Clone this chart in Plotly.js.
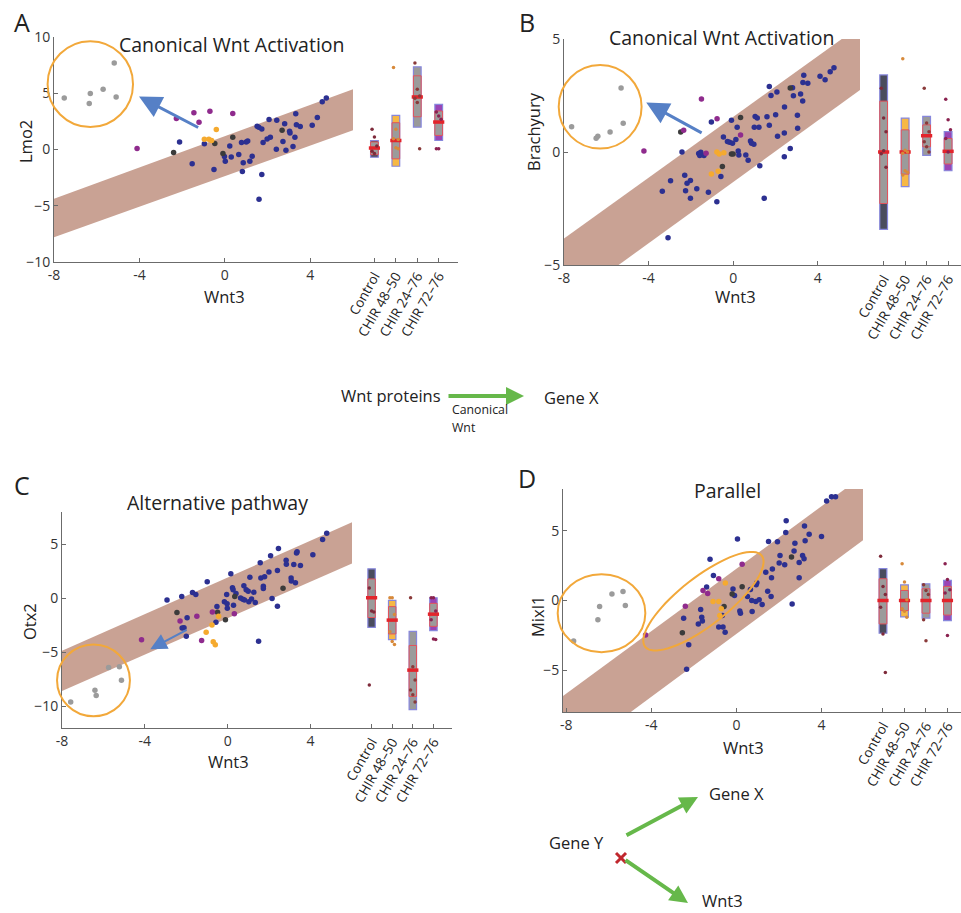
<!DOCTYPE html>
<html><head><meta charset="utf-8">
<script src="https://cdn.plot.ly/plotly-3.0.1.min.js"></script>
<style>html,body{margin:0;padding:0;background:#fff}#chart{width:961px;height:913px}</style>
</head><body><div id="chart"></div>
<script>
// ---------------- DATA ----------------
const categories = ["Control", "CHIR 48\u201350", "CHIR 24\u201376", "CHIR 72\u201376"];
const xTickVals = [-8, -4, 0, 4];
const xTickText = ["-8", "-4", "0", "4"];

// Panel A: Lmo2 vs Wnt3
const aBlueX = [-2.12,-1.53,-0.96,-0.51,-0.02,0.02,0.23,0.30,0.65,0.78,0.82,0.86,1.00,1.07,1.17,1.28,1.51,1.59,1.73,1.73,1.60,1.79,1.98,2.07,2.13,2.43,2.41,2.72,2.80,2.86,3.03,3.05,3.19,3.28,3.32,3.35,3.53,4.09,4.33,4.56,4.75];
const aBlueY = [0.66,-1.26,0.51,-1.77,-0.63,-1.05,0.30,-0.66,-0.45,0.63,-1.95,-1.17,0.66,0.75,-1.05,-0.60,2.07,1.98,1.83,-2.22,-4.43,0.63,0.93,2.66,1.08,2.60,0.03,0.72,2.28,-0.06,1.62,1.47,0.27,1.08,3.17,2.19,2.04,2.16,2.84,4.25,4.58];
const aBlackX = [-2.40,-0.47,-0.09,0.37,2.68];
const aBlackY = [-0.27,0.54,-0.36,1.08,1.71];
const aPurpleX = [-4.11,-2.27,-1.45,-1.21,-0.70,0.37];
const aPurpleY = [0.09,2.75,3.26,2.43,3.41,3.20];
const aOrangeX = [-0.96,-0.75,-0.62,-0.40];
const aOrangeY = [0.90,0.90,0.80,1.77];
const aGrayX = [-7.52,-6.30,-6.35,-5.70,-5.18,-5.09];
const aGrayY = [4.58,4.97,4.10,5.36,7.69,4.67];
const aBandX = [-8, 6];
const aBandUpper = [-4.37, 5.36];
const aBandLower = [-7.81, 1.71];
const aMean = [0.13, 0.80, 4.67, 2.44];
const aCiLow = [-0.46, -0.83, 2.91, 1.25];
const aCiHigh = [0.67, 2.38, 6.55, 3.42];
const aSdLow = [-0.69, -1.49, 1.99, 0.80];
const aSdHigh = [0.80, 3.04, 7.35, 4.01];
const aStripCat = [0,0,0,0,0, 1,1,1,1,1,1, 2,2,2,2,2,2, 3,3,3,3,3];
const aStripVal = [1.79,1.10,0.30,-0.15,-0.36, 7.29,1.79,0.89,0.95,0.15,0.06, 7.68,5.36,4.76,4.55,4.17,0.06, 3.33,2.98,2.68,0.06,0.06];

// Panel B: Brachyury vs Wnt3
const bBlueX = [-3.35,-3.08,-2.96,-2.42,-2.29,-2.25,-2.18,-2.02,-2.02,-1.72,-1.63,-1.58,-1.53,-1.38,-1.17,-1.03,-0.77,-0.58,-0.46,-0.27,-0.17,-0.08,-0.03,0.13,0.19,0.24,0.27,0.60,0.71,0.82,0.87,0.98,1.00,1.04,1.14,1.22,1.26,1.47,1.60,1.71,1.71,1.79,2.01,2.07,2.10,2.42,2.43,2.42,2.70,2.81,2.85,3.04,3.05,3.19,3.29,3.30,3.34,3.53,4.11,4.35,4.59,4.77];
const bBlueY = [-1.74,-3.79,-1.27,0.00,-1.03,-1.72,-1.38,-1.26,-2.05,-1.63,-0.07,-0.16,-0.01,-0.15,-1.78,1.33,-2.20,-1.08,0.66,0.46,0.43,1.41,0.39,0.55,1.09,0.04,-0.13,-0.13,-0.37,0.49,0.39,0.34,1.09,1.57,1.50,1.09,-0.61,-2.05,1.56,2.90,1.18,2.50,1.65,2.65,0.70,0.84,1.99,-0.21,0.15,2.84,2.49,1.63,1.05,2.57,2.26,3.08,3.40,3.04,3.35,3.20,3.55,3.73];
const bBlackX = [-2.48,-0.51,-0.08,0.00,0.35,2.70];
const bBlackY = [0.88,-0.64,-0.09,-0.09,1.53,2.83];
const bPurpleX = [-4.22,-2.34,-1.50,-1.28,-0.76,0.35];
const bPurpleY = [0.04,0.96,2.35,-0.06,1.47,0.75];
const bOrangeX = [-1.03,-0.77,-0.66,-0.71,-0.44];
const bOrangeY = [-0.97,0.00,-0.09,-0.85,-0.03];
const bGrayX = [-7.64,-6.48,-6.40,-5.82,-5.30,-5.20];
const bGrayY = [1.12,0.61,0.70,0.88,2.83,1.27];
const bBandX = [-8, 6];
const bBandUpper = [-3.83, 5.58];
const bBandLower = [-6.75, 2.74];
const bMean = [0.00, 0.00, 0.72, 0.03];
const bCiLow = [-2.28, -0.98, 0.23, -0.53];
const bCiHigh = [2.25, 0.98, 1.20, 0.60];
const bSdLow = [-3.42, -1.53, -0.15, -0.83];
const bSdHigh = [3.41, 1.50, 1.58, 0.90];
const bStripCat = [0,0,0,0,0,0, 1,1,1,1,1,1,1, 2,2,2,2,2,2, 3,3,3,3,3];
const bStripVal = [2.82,1.50,0.90,-0.08,0.05,-0.68, 4.13,0.08,0.00,-0.05,-0.83,-0.90,-1.02, 2.82,1.28,0.90,0.45,0.23,0.00, 2.33,1.43,0.98,0.60,0.00];

// Panel C: Otx2 vs Wnt3
const cBlueX = [-2.93,-2.22,-2.20,-2.11,-2.00,-1.96,-1.70,-1.54,-0.99,-0.57,-0.52,-0.16,-0.05,-0.03,-0.02,0.15,0.23,0.26,0.28,0.40,0.62,0.73,0.78,0.81,0.89,0.99,1.07,1.02,1.15,1.26,1.33,1.49,1.57,1.60,1.72,1.72,1.78,1.99,2.07,2.14,2.40,2.40,2.45,2.82,2.83,3.06,3.07,3.19,3.27,3.32,3.35,3.51,4.11,4.58,4.78];
const cBlueY = [-0.15,0.18,-2.74,-2.71,-3.50,-1.80,0.55,0.37,1.55,-2.20,-0.76,-0.30,0.37,-0.49,-0.91,2.29,0.98,0.79,-0.64,0.46,0.03,-0.09,1.16,-0.15,0.79,0.67,1.95,-0.30,-0.06,0.58,-0.37,-3.96,3.29,1.89,1.13,0.91,2.01,2.44,3.96,0.00,-0.73,2.59,4.63,3.54,3.17,1.89,1.62,3.14,1.46,4.21,4.33,3.05,4.05,5.46,6.04];
const cBlackX = [-2.45,-0.49,-0.11,0.34,2.67];
const cBlackY = [-1.31,-1.28,-1.98,0.18,0.95];
const cPurpleX = [-4.16,-2.30,-1.49,-1.26,-0.74,0.32];
const cPurpleY = [-3.84,-2.10,-1.65,-3.90,-1.25,-1.43];
const cOrangeX = [-1.04,-0.76,-0.44,-0.70,-0.60];
const cOrangeY = [-3.14,-2.47,-1.65,-4.02,-4.30];
const cGrayX = [-7.58,-6.41,-6.35,-5.75,-5.23,-5.13];
const cGrayY = [-9.60,-8.50,-9.00,-6.40,-6.34,-7.59];
const cBandX = [-8, 6];
const cBandUpper = [-4.85, 7.04];
const cBandLower = [-8.57, 3.23];
const cMean = [0.06, -2.01, -6.64, -1.46];
const cCiLow = [-1.77, -3.29, -9.08, -2.59];
const cCiHigh = [1.80, -0.76, -4.36, -0.46];
const cSdLow = [-2.68, -3.81, -10.30, -2.99];
const cSdHigh = [2.74, -0.18, -3.05, 0.06];
const cStripCat = [0,0,0,0, 1,1,1,1,1,1, 2,2,2,2,2,2, 3,3,3,3,3,3];
const cStripVal = [0.97,-1.16,-1.25,-8.01, 0.06,0.06,-1.50,-3.08,-4.00,-4.27, 0.06,-6.34,-7.55,-8.47,-8.93,-9.60, 0.06,0.06,-1.16,-1.98,-3.75,-3.81];

// Panel D: Mixl1 vs Wnt3
const dBlueX = [-2.48,-2.24,-2.34,-1.79,-1.68,-1.63,-1.60,-1.40,-1.24,-1.08,-0.83,-0.63,-0.53,-0.66,-0.16,-0.09,0.05,0.16,0.19,0.52,0.66,0.72,0.74,0.93,0.96,0.91,1.07,1.21,1.38,1.47,1.51,1.65,1.63,1.69,1.93,2.01,2.05,2.27,2.32,2.34,2.62,2.71,2.75,2.95,2.95,3.11,3.18,3.20,3.23,3.42,4.00,4.24,4.47,4.66];
const dBlueY = [-1.27,-3.17,-4.93,-1.68,-0.65,-1.20,-1.47,0.96,2.96,1.80,-1.90,-1.90,-2.28,-1.08,0.82,0.36,4.42,-0.75,-0.91,0.29,0.79,0.00,-0.79,1.13,1.27,-0.07,0.05,-0.29,2.02,0.67,4.23,1.63,0.29,2.26,4.21,2.69,3.22,2.57,4.88,5.72,-0.26,3.56,4.11,1.63,2.72,3.22,3.00,5.34,4.28,4.76,4.59,7.14,7.45,7.45];
const dBlackX = [-2.54,-0.58,-0.20,0.27,2.59];
const dBlackY = [-2.31,-0.43,0.46,0.99,3.13];
const dPurpleX = [-4.27,-2.40,-1.57,-1.35,-0.83,0.27];
const dPurpleY = [-2.48,-0.41,0.72,0.50,1.56,2.60];
const dOrangeX = [-1.10,-0.83,-0.52,-0.71,-0.78];
const dOrangeY = [-0.07,-0.07,1.25,-0.60,-1.08];
const dGrayX = [-7.65,-6.51,-6.43,-5.85,-5.33,-5.22];
const dGrayY = [-2.91,-1.39,-0.43,0.46,0.65,-0.36];
const dBandX = [-8.15, 5.95];
const dBandUpper = [-6.85, 8.95];
const dBandLower = [-11.60, 4.33];
const dMean = [0.00, 0.00, 0.00, 0.00];
const dCiLow = [-1.68, -0.72, -0.91, -1.04];
const dCiHigh = [1.56, 0.72, 0.84, 1.01];
const dSdLow = [-2.35, -1.18, -1.27, -1.44];
const dSdHigh = [2.28, 1.12, 1.20, 1.44];
const dStripCat = [0,0,0,0,0,0, 1,1,1,1,1,1, 2,2,2,2,2, 3,3,3,3,3];
const dStripVal = [3.17,1.01,0.43,-0.48,-2.40,-5.16, 2.64,1.32,0.05,-0.60,-0.77,-1.20, 1.13,0.72,0.43,-1.39,-2.88, 2.64,1.51,0.77,0.53,-2.52];

// ---------------- STYLE / GEOMETRY ----------------
const W = 961, H = 913;
const FONT = "Open Sans, Noto Sans, sans-serif";
const COL = {blue:"#2c3091", black:"#3b3b3b", purple:"#8f2b8d", orange:"#f5aa2f", gray:"#9b9b9b",
  band:"#c9a294", circle:"#f2a83a", arrow:"#5680c6", green:"#66b84a", axis:"#6b6b6b", text:"#222"};
const boxColors = ["#4a4c5d", "#f6b845", "#9a9a9a", "#9a45b5"];
const stripColors = ["#7e2a3a", "#d7893a", "#8a3a3a", "#8a2250"];

const geo = {
  A:{sx:[54,353], sy:[37,262], xr:[-8,6], yr:[-10,10], bx:[353,458], br:[-1,3.9], yt:[-10,-5,0,5,10]},
  B:{sx:[564,860], sy:[39,265], xr:[-8,6], yr:[-5,5], bx:[860,961], br:[-1.1,3.6], yt:[-5,0,5]},
  C:{sx:[62,352], sy:[512,728], xr:[-8,6], yr:[-12,8], bx:[352,452], br:[-0.95,3.9], yt:[-10,-5,0,5]},
  D:{sx:[563,863], sy:[489,712], xr:[-8.15,5.95], yr:[-8,8], bx:[863,961], br:[-0.93,3.63], yt:[-5,0,5]}
};

const panels = [
  {key:"A", idx:1, groups:[[aBlueX,aBlueY,COL.blue],[aBlackX,aBlackY,COL.black],[aPurpleX,aPurpleY,COL.purple],[aOrangeX,aOrangeY,COL.orange],[aGrayX,aGrayY,COL.gray]],
   band:[aBandX,aBandUpper,aBandLower], stats:[aMean,aCiLow,aCiHigh,aSdLow,aSdHigh], strip:[aStripCat,aStripVal]},
  {key:"B", idx:3, groups:[[bBlueX,bBlueY,COL.blue],[bBlackX,bBlackY,COL.black],[bPurpleX,bPurpleY,COL.purple],[bOrangeX,bOrangeY,COL.orange],[bGrayX,bGrayY,COL.gray]],
   band:[bBandX,bBandUpper,bBandLower], stats:[bMean,bCiLow,bCiHigh,bSdLow,bSdHigh], strip:[bStripCat,bStripVal]},
  {key:"C", idx:5, groups:[[cBlueX,cBlueY,COL.blue],[cBlackX,cBlackY,COL.black],[cPurpleX,cPurpleY,COL.purple],[cOrangeX,cOrangeY,COL.orange],[cGrayX,cGrayY,COL.gray]],
   band:[cBandX,cBandUpper,cBandLower], stats:[cMean,cCiLow,cCiHigh,cSdLow,cSdHigh], strip:[cStripCat,cStripVal]},
  {key:"D", idx:7, groups:[[dBlueX,dBlueY,COL.blue],[dBlackX,dBlackY,COL.black],[dPurpleX,dPurpleY,COL.purple],[dOrangeX,dOrangeY,COL.orange],[dGrayX,dGrayY,COL.gray]],
   band:[dBandX,dBandUpper,dBandLower], stats:[dMean,dCiLow,dCiHigh,dSdLow,dSdHigh], strip:[dStripCat,dStripVal]}
];

function axId(n){ return n === 1 ? "" : String(n); }
function toPx(g, x, y){
  const px = g.sx[0] + (x - g.xr[0]) / (g.xr[1] - g.xr[0]) * (g.sx[1] - g.sx[0]);
  const py = g.sy[1] - (y - g.yr[0]) / (g.yr[1] - g.yr[0]) * (g.sy[1] - g.sy[0]);
  return [px, py];
}
function pp(px, py){ return [px / W, 1 - py / H]; }

const traces = [];
const layout = {
  width: W, height: H, margin:{l:0,r:0,t:0,b:0}, showlegend:false,
  paper_bgcolor:"#ffffff", plot_bgcolor:"rgba(0,0,0,0)", barmode:"overlay",
  font:{family:FONT, color:COL.text}, hovermode:false,
  shapes:[], annotations:[]
};
const axCommon = {showline:true, linecolor:COL.axis, linewidth:1, ticks:"inside", ticklen:4, tickcolor:COL.axis,
  showgrid:false, zeroline:false, fixedrange:true, tickfont:{family:FONT, size:14, color:"#333"}};

panels.forEach(p => {
  const g = geo[p.key];
  const sx = axId(p.idx), bxn = axId(p.idx + 1);
  const yDom = [1 - g.sy[1] / H, 1 - g.sy[0] / H];
  layout["xaxis" + sx] = Object.assign({}, axCommon, {domain:[g.sx[0]/W, g.sx[1]/W], range:g.xr, anchor:"y"+sx,
    tickmode:"array", tickvals:xTickVals, ticktext:xTickText});
  layout["yaxis" + sx] = Object.assign({}, axCommon, {domain:yDom, range:g.yr, anchor:"x"+sx, tickmode:"array", tickvals:g.yt});
  layout["xaxis" + bxn] = Object.assign({}, axCommon, {domain:[g.bx[0]/W, g.bx[1]/W], range:g.br, anchor:"y"+bxn,
    tickmode:"array", tickvals:[0,1,2,3], ticktext:categories, tickangle:-60,
    tickfont:{family:FONT, size:13.5, color:"#222"}});
  layout["yaxis" + bxn] = {domain:yDom, range:g.yr, anchor:"x"+bxn, visible:false, fixedrange:true};

  // regression band
  const [bx, bu, bl] = p.band;
  traces.push({type:"scatter", mode:"lines", x:bx.concat(bx.slice().reverse()), y:bu.concat(bl.slice().reverse()),
    fill:"toself", fillcolor:COL.band, line:{width:0, color:COL.band}, xaxis:"x"+sx, yaxis:"y"+sx, hoverinfo:"skip"});
  // scatter groups
  p.groups.forEach(([gx, gy, c]) => {
    traces.push({type:"scatter", mode:"markers", x:gx, y:gy, marker:{size:5.5, color:c}, xaxis:"x"+sx, yaxis:"y"+sx, hoverinfo:"skip"});
  });
  // box panel: SD bar, CI bar, mean, points
  const [mean, ciLo, ciHi, sdLo, sdHi] = p.stats;
  const cats = [0,1,2,3];
  traces.push({type:"bar", x:cats, base:sdLo, y:sdHi.map((v,i)=>v - sdLo[i]), width:0.36,
    marker:{color:boxColors, line:{color:"#8787dc", width:1.2}}, xaxis:"x"+bxn, yaxis:"y"+bxn, hoverinfo:"skip"});
  traces.push({type:"bar", x:cats, base:ciLo, y:ciHi.map((v,i)=>v - ciLo[i]), width:0.36,
    marker:{color:"#9b9b9b", line:{color:"#e2545c", width:1}}, xaxis:"x"+bxn, yaxis:"y"+bxn, hoverinfo:"skip"});
  traces.push({type:"scatter", mode:"markers", x:cats, y:mean,
    marker:{symbol:"line-ew", size:8, line:{width:3.5, color:"#e3242b"}}, xaxis:"x"+bxn, yaxis:"y"+bxn, hoverinfo:"skip"});
  const [sc, sv] = p.strip;
  const counter = [0,0,0,0];
  const jx = sc.map(c => { const k = counter[c]++; return c + ((k % 3) - 1) * 0.11; });
  traces.push({type:"scatter", mode:"markers", x:jx, y:sv, marker:{size:3.5, color:sc.map(c=>stripColors[c])},
    xaxis:"x"+bxn, yaxis:"y"+bxn, hoverinfo:"skip", cliponaxis:false});
});

// ---------------- DECORATIONS ----------------
function ann(px, py, text, size, extra){
  const [x, y] = pp(px, py);
  return Object.assign({xref:"paper", yref:"paper", x, y, text, showarrow:false,
    font:{family:FONT, size, color:COL.text}, xanchor:"center", yanchor:"middle"}, extra || {});
}
// panel letters
layout.annotations.push(ann(22, 22, "A", 25), ann(527, 22, "B", 25), ann(22, 485, "C", 25), ann(527, 478, "D", 25));
// titles
layout.annotations.push(ann(232, 44, "Canonical Wnt Activation", 19.5), ann(722, 37, "Canonical Wnt Activation", 19.5),
  ann(217, 502, "Alternative pathway", 19.5), ann(727, 491, "Parallel", 19.5));
// axis titles
layout.annotations.push(ann(224, 296, "Wnt3", 16.5), ann(735, 296, "Wnt3", 16.5), ann(228, 761, "Wnt3", 16.5), ann(743, 747, "Wnt3", 16.5));
layout.annotations.push(ann(25, 142, "Lmo2", 16.5, {textangle:-90}), ann(533, 132, "Brachyury", 16.5, {textangle:-90}),
  ann(29, 622, "Otx2", 16.5, {textangle:-90}), ann(537, 617, "Mixl1", 16.5, {textangle:-90}));

// orange circles (centre and radii in data units of each scatter panel)
function ellipseShape(g, cx, cy, rx, ry){
  const [x0p, y0p] = toPx(g, cx - rx, cy - ry), [x1p, y1p] = toPx(g, cx + rx, cy + ry);
  const a = pp(x0p, y0p), b = pp(x1p, y1p);
  return {type:"circle", xref:"paper", yref:"paper", x0:a[0], y0:a[1], x1:b[0], y1:b[1],
    line:{color:COL.circle, width:2}, fillcolor:"rgba(0,0,0,0)", layer:"above"};
}
layout.shapes.push(ellipseShape(geo.A, -6.30, 5.81, 2.0, 3.82));
layout.shapes.push(ellipseShape(geo.B, -6.29, 2.0, 1.96, 1.85));
layout.shapes.push(ellipseShape(geo.C, -6.48, -7.59, 1.76, 3.32));
layout.shapes.push(ellipseShape(geo.D, -6.34, -0.91, 2.06, 2.8));
// tilted ellipse in D (pixel-space centre, semi-axes, angle)
(function(){
  const c = toPx(geo.D, -1.55, -0.05), a = 74, b = 24, th = 38 * Math.PI / 180;
  let d = "";
  for (let i = 0; i <= 72; i++) {
    const t = i / 72 * 2 * Math.PI;
    const px = c[0] + a * Math.cos(t) * Math.cos(th) - b * Math.sin(t) * Math.sin(th);
    const py = c[1] - (a * Math.cos(t) * Math.sin(th) + b * Math.sin(t) * Math.cos(th));
    const q = pp(px, py);
    d += (i === 0 ? "M" : "L") + q[0].toFixed(5) + "," + q[1].toFixed(5);
  }
  layout.shapes.push({type:"path", xref:"paper", yref:"paper", path:d + "Z", line:{color:COL.circle, width:2}, layer:"above"});
})();

// blue arrows in data coordinates
function dataArrow(n, hx, hy, tx, ty, w, s){
  return {xref:"x"+n, yref:"y"+n, axref:"x"+n, ayref:"y"+n, x:hx, y:hy, ax:tx, ay:ty, text:"", showarrow:true,
    arrowhead:2, arrowsize:s, arrowwidth:w, arrowcolor:COL.arrow, standoff:0};
}
layout.annotations.push(dataArrow("", -4.02, 4.70, -1.18, 1.89, 3, 1.5));
layout.annotations.push(dataArrow("3", -4.11, 2.19, -1.42, 0.81, 3, 1.5));
layout.annotations.push(dataArrow("5", -3.74, -4.70, -1.91, -2.84, 2.2, 1.5));

// pathway diagrams
function pxArrow(hx, hy, tx, ty){
  const q = pp(hx, hy);
  return {xref:"paper", yref:"paper", x:q[0], y:q[1], ax:tx - hx, ay:ty - hy, text:"", showarrow:true,
    arrowhead:2, arrowsize:0.9, arrowwidth:4, arrowcolor:COL.green, standoff:0};
}
layout.annotations.push(ann(339, 395, "Wnt proteins", 16.5, {xanchor:"left"}));
layout.annotations.push(pxArrow(524, 396, 447, 396));
layout.annotations.push(ann(450, 409, "Canonical", 12.3, {xanchor:"left"}), ann(450, 427, "Wnt", 12.3, {xanchor:"left"}));
layout.annotations.push(ann(542, 397, "Gene X", 16.5, {xanchor:"left"}));
layout.annotations.push(ann(547, 842, "Gene Y", 16.5, {xanchor:"left"}));
layout.annotations.push(pxArrow(698, 797, 625, 836));
layout.annotations.push(ann(707, 793, "Gene X", 16.5, {xanchor:"left"}));
layout.annotations.push(pxArrow(688, 903, 624, 859));
layout.annotations.push(ann(700, 900, "Wnt3", 16.5, {xanchor:"left"}));
// red cross
(function(){
  const c = [621, 858], r = 5;
  [[-1,-1,1,1],[-1,1,1,-1]].forEach(([a,b,e,f]) => {
    const p0 = pp(c[0] + a*r, c[1] + b*r), p1 = pp(c[0] + e*r, c[1] + f*r);
    layout.shapes.push({type:"line", xref:"paper", yref:"paper", x0:p0[0], y0:p0[1], x1:p1[0], y1:p1[1],
      line:{color:"#c0272d", width:3}, layer:"above"});
  });
})();

Plotly.newPlot("chart", traces, layout, {displayModeBar:false, staticPlot:true});
</script></body></html>
